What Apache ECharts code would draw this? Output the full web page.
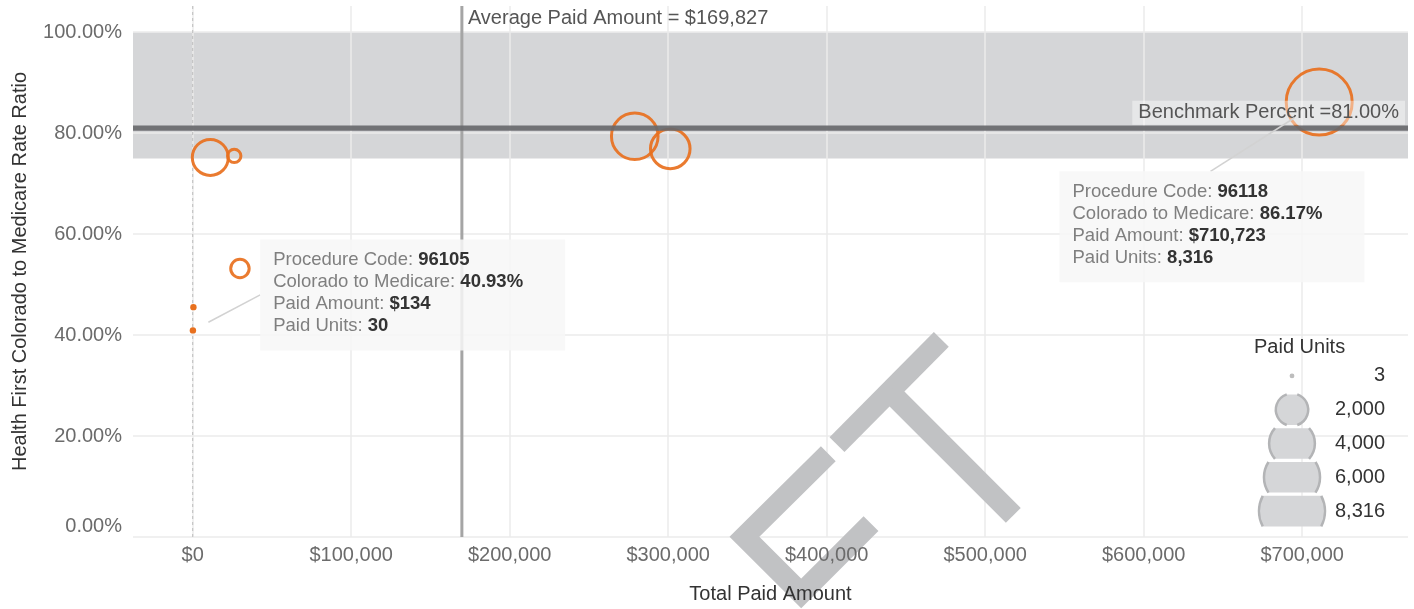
<!DOCTYPE html>
<html><head><meta charset="utf-8">
<script src="https://cdn.jsdelivr.net/npm/echarts@6/dist/echarts.min.js"></script>
<style>html,body{margin:0;padding:0;background:#fff}#c{width:1414px;height:609px}</style>
</head><body><div id="c"></div>
<script>
// ---- data ----
const paidAmount = [134, 450, 11100, 26200, 29800, 278900, 301300, 710723];
const rateRatio  = [0.4093, 0.4554, 0.752, 0.755, 0.532, 0.794, 0.769, 0.8617];
const paidUnits  = [30, 3, 2470, 340, 650, 4150, 2990, 8316];
const annotIndex = [0, 7];
const annotCodes = ['96105', '96118'];
const benchmarkPercent = 0.81;
const averagePaidAmount = 169827;
const bandRange = [0.75, 1.0];
const xTicks = [0, 100000, 200000, 300000, 400000, 500000, 600000, 700000];
const yTicks = [0, 0.2, 0.4, 0.6, 0.8, 1.0];
const legendUnits = [3, 2000, 4000, 6000, 8316];
const legendLabels = ['3', '2,000', '4,000', '6,000', '8,316'];

// ---- styling ----
const FONT = '"Liberation Sans", Arial, Helvetica, sans-serif';
const ORANGE = '#E8701E';
const X_MIN = -37666, X_MAX = 766750, Y_MIN = 0, Y_MAX = 1.052;
const maxUnits = Math.max.apply(null, paidUnits);
function radius(u) { return Math.max(3.2, 33 * Math.sqrt(u / maxUnits)); }
const fmtMoney = v => '$' + Math.round(v).toLocaleString('en-US');
const fmtPct = v => (v * 100).toFixed(2) + '%';

const annotLayout = [
  { box: [67.3, -91], attach: [67.3, -35.5] },
  { box: [-259.7, 69.3], attach: [-108.7, 69.3] }
];

const chart = echarts.init(document.getElementById('c'), null, { renderer: 'canvas' });

const bubbleData = paidAmount.map((x, i) => {
  const r = radius(paidUnits[i]);
  const filled = r <= 4;
  return {
    value: [x, rateRatio[i], paidUnits[i]],
    symbolSize: 2 * r,
    itemStyle: filled ? { color: ORANGE, opacity: 1 }
      : { color: 'rgba(0,0,0,0)', borderColor: ORANGE, borderWidth: 3, opacity: 0.92 }
  };
});

const option = {
  animation: false,
  backgroundColor: '#ffffff',
  textStyle: { fontFamily: FONT },
  title: {
    text: 'Paid Units', left: 1254, top: 337, padding: 0,
    textStyle: { fontFamily: FONT, fontSize: 20, fontWeight: 'normal', color: '#333' }
  },
  grid: [
    { left: 133, right: 6, top: 6, bottom: 71 },
    { left: 1259, top: 359, width: 66, height: 169 }
  ],
  xAxis: [
    { type: 'value', gridIndex: 0, min: X_MIN, max: X_MAX, z: 0,
      axisLine: { show: false }, axisTick: { show: false, customValues: xTicks },
      axisLabel: { show: false },
      splitLine: { show: true, lineStyle: { color: '#ebebeb', width: 1.5 } } },
    { type: 'value', gridIndex: 0, min: X_MIN, max: X_MAX, z: 5, position: 'bottom',
      axisLine: { show: false }, axisTick: { show: false, customValues: xTicks },
      splitLine: { show: false },
      axisLabel: { customValues: xTicks, formatter: fmtMoney, margin: 8,
        fontSize: 20, fontFamily: FONT, color: '#6b6b6b' },
      name: 'Total Paid Amount', nameLocation: 'middle', nameGap: 47,
      nameTextStyle: { fontSize: 20, fontFamily: FONT, color: '#333' } },
    { type: 'value', gridIndex: 1, min: -1, max: 1, show: false }
  ],
  yAxis: [
    { type: 'value', gridIndex: 0, min: Y_MIN, max: Y_MAX, z: 0,
      axisLine: { show: false }, axisTick: { show: false, customValues: yTicks },
      axisLabel: { show: false },
      splitLine: { show: true, lineStyle: { color: '#ebebeb', width: 1.5 } } },
    { type: 'value', gridIndex: 0, min: Y_MIN, max: Y_MAX, z: 5, position: 'left',
      axisLine: { show: false }, axisTick: { show: false, customValues: yTicks },
      splitLine: { show: false },
      axisLabel: { customValues: yTicks, margin: 11, fontSize: 20, fontFamily: FONT, color: '#6b6b6b',
        formatter: v => v === 0 ? '{z|' + fmtPct(v) + '}' : fmtPct(v),
        rich: { z: { fontSize: 20, fontFamily: FONT, color: '#6b6b6b', padding: [0, 0, 22, 0] } } },
      name: 'Health First Colorado to Medicare Rate Ratio', nameLocation: 'middle', nameGap: 103,
      nameRotate: 90,
      nameTextStyle: { fontSize: 20, fontFamily: FONT, color: '#333' } },
    { type: 'category', gridIndex: 1, data: legendLabels, inverse: true, position: 'right',
      axisLine: { show: false }, axisTick: { show: false }, splitLine: { show: false },
      axisLabel: { margin: 60, align: 'right', fontSize: 20, fontFamily: FONT, color: '#333' } }
  ],
  graphic: {
    elements: [
      { type: 'polyline', z: 1, silent: true,
        shape: { points: [[828.3, 453.7], [744.4, 536.7], [801.2, 593.5], [871, 523.7]] },
        style: { stroke: '#c1c2c4', lineWidth: 21, fill: null, lineJoin: 'miter', lineCap: 'butt' } },
      { type: 'line', z: 1, silent: true,
        shape: { x1: 837, y1: 444.7, x2: 941.3, y2: 339.3 },
        style: { stroke: '#c1c2c4', lineWidth: 21, lineCap: 'butt' } },
      { type: 'line', z: 1, silent: true,
        shape: { x1: 889.5, y1: 391.5, x2: 1013.3, y2: 515.3 },
        style: { stroke: '#c1c2c4', lineWidth: 21, lineCap: 'butt' } }
    ]
  },
  series: [
    { // benchmark band
      type: 'custom', xAxisIndex: 0, yAxisIndex: 0, z: -1, silent: true, clip: false,
      encode: { x: 0, y: 1 },
      data: [[0, bandRange[0], bandRange[1]]],
      renderItem: (params, api) => {
        const cs = params.coordSys;
        const yLo = api.coord([0, api.value(1)])[1];
        const yHi = api.coord([0, api.value(2)])[1];
        return { type: 'rect', shape: { x: cs.x, y: yHi, width: cs.width, height: yLo - yHi },
          style: { fill: '#d5d6d8' } };
      }
    },
    { // zero dashed line
      type: 'custom', xAxisIndex: 0, yAxisIndex: 0, z: 1, silent: true, clip: false,
      encode: { x: 0, y: 1 },
      data: [[0, 0]],
      renderItem: (params, api) => {
        const cs = params.coordSys;
        const x = api.coord([api.value(0), 0])[0];
        return { type: 'line', shape: { x1: x, y1: cs.y, x2: x, y2: cs.y + cs.height },
          style: { stroke: '#bdbdbd', lineWidth: 1, lineDash: [3, 3] } };
      }
    },
    { // bubbles
      type: 'scatter', xAxisIndex: 0, yAxisIndex: 0, z: 3, symbol: 'circle',
      data: bubbleData, emphasis: { disabled: true }
    },
    { // average paid amount line
      type: 'custom', xAxisIndex: 0, yAxisIndex: 0, z: 4, silent: true, clip: false,
      encode: { x: 0, y: 1 },
      data: [[averagePaidAmount, 0]],
      renderItem: (params, api) => {
        const cs = params.coordSys;
        const x = api.coord([api.value(0), 0])[0];
        return { type: 'group', children: [
          { type: 'line', shape: { x1: x, y1: cs.y, x2: x, y2: cs.y + cs.height },
            style: { stroke: '#a5a5a5', lineWidth: 3 } },
          { type: 'text', x: x + 6, y: cs.y + 12,
            style: { text: 'Average Paid Amount = ' + fmtMoney(api.value(0)),
              font: '20px ' + FONT, fill: '#555', align: 'left', verticalAlign: 'middle' } }
        ] };
      }
    },
    { // benchmark line
      type: 'custom', xAxisIndex: 0, yAxisIndex: 0, z: 4, silent: true, clip: false,
      encode: { x: 0, y: 1 },
      data: [[0, benchmarkPercent]],
      renderItem: (params, api) => {
        const cs = params.coordSys;
        const y = api.coord([0, api.value(1)])[1];
        return { type: 'group', children: [
          { type: 'line', shape: { x1: cs.x, y1: y, x2: cs.x + cs.width, y2: y },
            style: { stroke: '#68696c', lineWidth: 5.3, opacity: 0.92 } },
          { type: 'text', x: cs.x + cs.width - 3, y: y - 3.5,
            style: { text: 'Benchmark Percent =' + fmtPct(api.value(1)),
              font: '20px ' + FONT, fill: '#555', align: 'right', verticalAlign: 'bottom',
              backgroundColor: 'rgba(255,255,255,0.42)', padding: [1, 6, 1, 6], lineHeight: 22 } }
        ] };
      }
    },
    { // annotation boxes
      type: 'custom', xAxisIndex: 0, yAxisIndex: 0, z: 6, silent: true, clip: false,
      encode: { x: 0, y: 1 },
      data: annotIndex.map((idx, k) => [paidAmount[idx], rateRatio[idx], k, paidUnits[idx]]),
      renderItem: (params, api) => {
        const p = api.coord([api.value(0), api.value(1)]);
        const k = api.value(2);
        const L = annotLayout[k];
        const ax = p[0] + L.attach[0], ay = p[1] + L.attach[1];
        const f = 0.77;
        const text = 'Procedure Code: {b|' + annotCodes[k] + '}\n' +
          'Colorado to Medicare: {b|' + fmtPct(api.value(1)) + '}\n' +
          'Paid Amount: {b|' + fmtMoney(api.value(0)) + '}\n' +
          'Paid Units: {b|' + Math.round(api.value(3)).toLocaleString('en-US') + '}';
        return { type: 'group', children: [
          { type: 'line', shape: { x1: ax, y1: ay, x2: ax + (p[0] - ax) * f, y2: ay + (p[1] - ay) * f },
            style: { stroke: '#d2d2d2', lineWidth: 1.5 } },
          { type: 'text', x: p[0] + L.box[0], y: p[1] + L.box[1],
            style: { text: text, font: '18.5px ' + FONT, fill: '#7f7f7f', lineHeight: 22,
              align: 'left', verticalAlign: 'top',
              backgroundColor: 'rgba(247,247,247,0.85)', padding: [10, 42, 13, 13],
              rich: { b: { fontWeight: 'bold', fontSize: 18.5, fontFamily: FONT, fill: '#333', lineHeight: 22 } } } }
        ] };
      }
    },
    { // size legend
      type: 'custom', xAxisIndex: 2, yAxisIndex: 2, z: 3, silent: true, clip: false,
      encode: { x: 0, y: 1 },
      data: legendUnits.map((u, i) => [0, i, u]),
      renderItem: (params, api) => {
        const c = api.coord([0, api.value(1)]);
        const r = radius(api.value(2));
        const h = api.size([0, 1])[1] / 2 - 1.6;
        const fill = '#d5d6d8', stroke = '#b3b4b6', lw = 2.5;
        if (r <= 4) return { type: 'circle', shape: { cx: c[0], cy: c[1], r: 2.4 }, style: { fill: '#bdbdbd' } };
        if (r <= h) return { type: 'circle', shape: { cx: c[0], cy: c[1], r: r }, style: { fill: fill, stroke: stroke, lineWidth: lw } };
        const a = Math.asin(h / r);
        const pts = [];
        const n = 24;
        for (let j = 0; j <= n; j++) { const t = -a + 2 * a * j / n; pts.push([c[0] + r * Math.cos(t), c[1] + r * Math.sin(t)]); }
        for (let j = 0; j <= n; j++) { const t = Math.PI - a + 2 * a * j / n; pts.push([c[0] + r * Math.cos(t), c[1] + r * Math.sin(t)]); }
        return { type: 'group', children: [
          { type: 'polygon', shape: { points: pts }, style: { fill: fill } },
          { type: 'arc', shape: { cx: c[0], cy: c[1], r: r, startAngle: -a, endAngle: a, clockwise: true }, style: { stroke: stroke, lineWidth: lw, fill: null } },
          { type: 'arc', shape: { cx: c[0], cy: c[1], r: r, startAngle: Math.PI - a, endAngle: Math.PI + a, clockwise: true }, style: { stroke: stroke, lineWidth: lw, fill: null } }
        ] };
      }
    }
  ]
};
chart.setOption(option);
</script>
</body></html>
